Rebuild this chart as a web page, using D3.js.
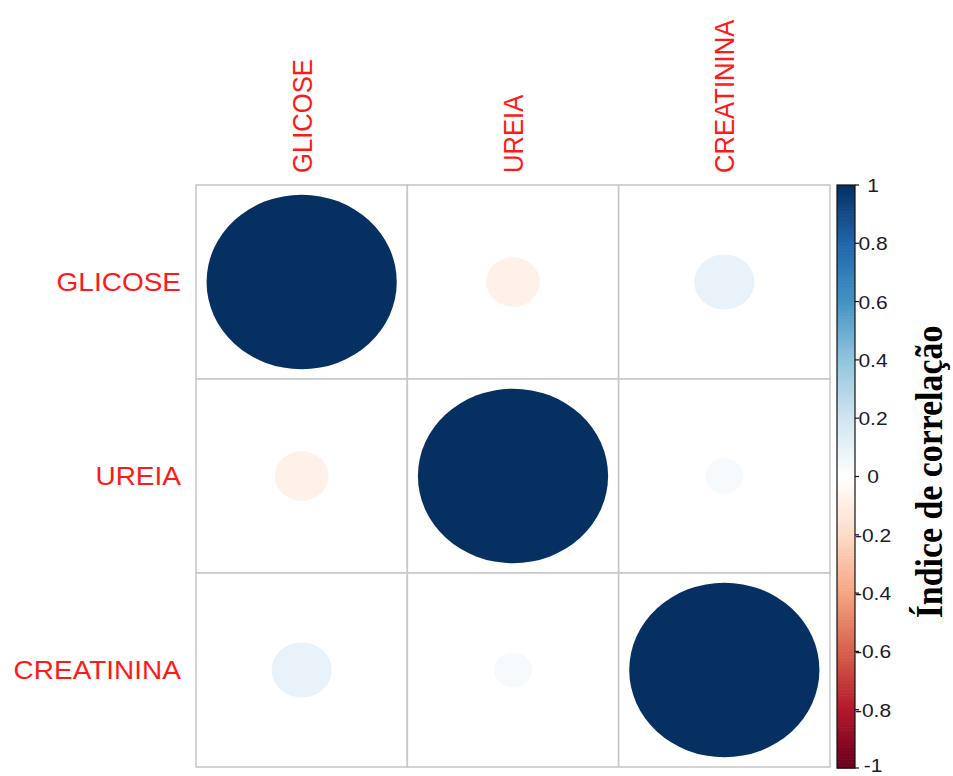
<!DOCTYPE html>
<html>
<head>
<meta charset="utf-8">
<script src="https://cdn.jsdelivr.net/npm/d3@7"></script>
<style>
  body { margin: 0; background: #fff; }
  svg { display: block; }
</style>
</head>
<body>
<div id="chart"></div>
<script>
var vars = ["GLICOSE", "UREIA", "CREATININA"];
var corrGlicose = [1, -0.08, 0.10];
var corrUreia = [-0.08, 1, 0.04];
var corrCreatinina = [0.10, 0.04, 1];
var corrRows = [corrGlicose, corrUreia, corrCreatinina];
var legendTicks = [-1, -0.8, -0.6, -0.4, -0.2, 0, 0.2, 0.4, 0.6, 0.8, 1];
var paletteStops = ["#67001F", "#B2182B", "#D6604D", "#F4A582", "#FDDBC7", "#FFFFFF",
                    "#D1E5F0", "#92C5DE", "#4393C3", "#2166AC", "#053061"];
var legendTitle = "Índice de correlação";

var width = 953, height = 776;
var grid = {left: 196, right: 830, top: 185, bottom: 767};
var squash = 0.915; // picture is slightly compressed vertically

var svg = d3.select("#chart").append("svg")
    .attr("width", width)
    .attr("height", height);

var xScale = d3.scaleBand().domain(vars).range([grid.left, grid.right]);
var yScale = d3.scaleBand().domain(vars).range([grid.top, grid.bottom]);

var colScale = d3.scaleLinear()
    .domain(d3.range(paletteStops.length).map(function(i) { return -1 + i * 0.2; }))
    .range(paletteStops);

// cells
var cells = [];
corrRows.forEach(function(row, i) {
  row.forEach(function(v, j) {
    cells.push({row: vars[i], col: vars[j], value: v});
  });
});

svg.selectAll(".cell")
  .data(cells)
  .enter().append("rect")
    .attr("class", "cell")
    .attr("x", function(d) { return xScale(d.col); })
    .attr("y", function(d) { return yScale(d.row); })
    .attr("width", xScale.bandwidth())
    .attr("height", yScale.bandwidth())
    .attr("fill", "#fff")
    .attr("stroke", "#c8c8c8")
    .attr("stroke-width", 1.6);

svg.selectAll(".dot")
  .data(cells)
  .enter().append("ellipse")
    .attr("class", "dot")
    .attr("cx", function(d) { return xScale(d.col) + xScale.bandwidth() / 2; })
    .attr("cy", function(d) { return yScale(d.row) + yScale.bandwidth() / 2; })
    .attr("rx", function(d) { return 0.45 * xScale.bandwidth() * Math.sqrt(Math.abs(d.value)); })
    .attr("ry", function(d) { return 0.45 * yScale.bandwidth() * Math.sqrt(Math.abs(d.value)); })
    .attr("fill", function(d) { return colScale(d.value); });

// row labels
svg.selectAll(".rowLabel")
  .data(vars)
  .enter().append("text")
    .attr("class", "rowLabel")
    .attr("transform", function(d) {
      return "translate(181," + (yScale(d) + yScale.bandwidth() / 2) + ") scale(1," + squash + ")";
    })
    .attr("dy", "0.36em")
    .attr("text-anchor", "end")
    .attr("font-family", "Liberation Sans, Arial, sans-serif")
    .attr("font-size", 28)
    .attr("fill", "#ff1a1a")
    .text(function(d) { return d; });

// column labels
svg.selectAll(".colLabel")
  .data(vars)
  .enter().append("text")
    .attr("class", "colLabel")
    .attr("transform", function(d) {
      return "translate(" + (xScale(d) + xScale.bandwidth() / 2) + ",173) scale(1," + squash + ") rotate(-90)";
    })
    .attr("dy", "0.36em")
    .attr("text-anchor", "start")
    .attr("font-family", "Liberation Sans, Arial, sans-serif")
    .attr("font-size", 28)
    .attr("fill", "#ff1a1a")
    .text(function(d) { return d; });

// colour legend
var legX = 837, legW = 18;
var legScale = d3.scaleLinear().domain([-1, 1]).range([768, 185]);
var nSteps = 200;
var steps = d3.range(nSteps).map(function(i) { return -1 + (i + 0.5) * 2 / nSteps; });
var stepH = (legScale(-1) - legScale(1)) / nSteps;

svg.selectAll(".legStep")
  .data(steps)
  .enter().append("rect")
    .attr("class", "legStep")
    .attr("x", legX)
    .attr("y", function(d) { return legScale(d) - stepH / 2; })
    .attr("width", legW)
    .attr("height", stepH + 0.6)
    .attr("fill", function(d) { return colScale(d); });

svg.append("rect")
    .attr("x", legX)
    .attr("y", legScale(1))
    .attr("width", legW)
    .attr("height", legScale(-1) - legScale(1))
    .attr("fill", "none")
    .attr("stroke", "#111")
    .attr("stroke-width", 1.2);

svg.selectAll(".legTick")
  .data(legendTicks)
  .enter().append("line")
    .attr("class", "legTick")
    .attr("x1", legX + legW)
    .attr("x2", legX + legW + 4)
    .attr("y1", function(d) { return legScale(d); })
    .attr("y2", function(d) { return legScale(d); })
    .attr("stroke", "#111")
    .attr("stroke-width", 1.2);

svg.selectAll(".legLabel")
  .data(legendTicks)
  .enter().append("text")
    .attr("class", "legLabel")
    .attr("transform", function(d) {
      // bottom label nudged up so it stays inside the picture
      var y = d === -1 ? legScale(d) - 3 : legScale(d);
      return "translate(873," + y + ") scale(1," + squash + ")";
    })
    .attr("dy", "0.36em")
    .attr("text-anchor", "middle")
    .attr("font-family", "Liberation Sans, Arial, sans-serif")
    .attr("font-size", 21)
    .attr("fill", "#1a1a2e")
    .text(function(d) { return String(d); });

svg.append("text")
    .attr("transform", "translate(942,472) scale(1," + squash + ") rotate(-90)")
    .attr("text-anchor", "middle")
    .attr("font-family", "Liberation Serif, Times New Roman, serif")
    .attr("font-weight", "bold")
    .attr("font-size", 37)
    .attr("fill", "#000")
    .text(legendTitle);
</script>
</body>
</html>
